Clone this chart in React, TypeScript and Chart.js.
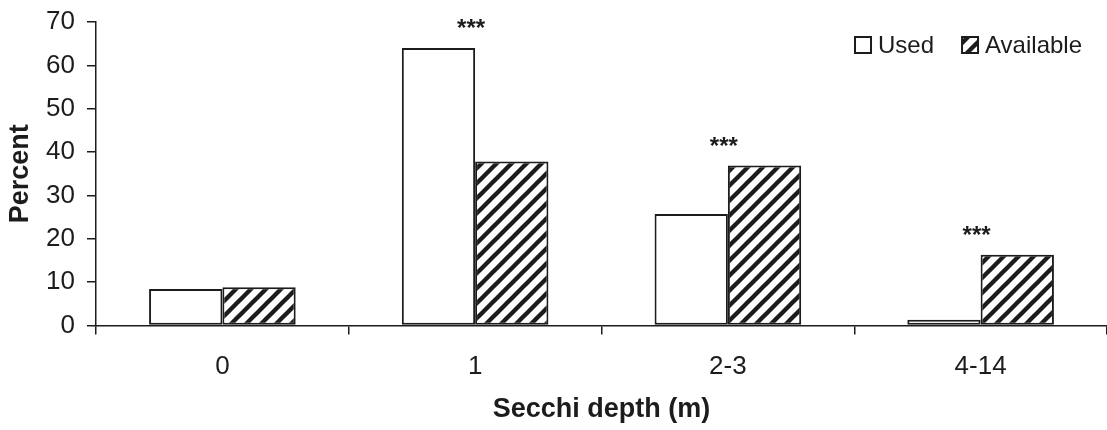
import React, { useEffect, useRef } from "react";
import { Chart, registerables } from "chart.js";

Chart.register(...registerables);

// ---- data ----
const categories = ["0", "1", "2-3", "4-14"];
const usedValues = [8.4, 64.0, 25.7, 1.3];
const availableValues = [8.8, 37.8, 36.9, 16.3];
const significance = ["", "***", "***", "***"];
const seriesLabels = ["Used", "Available"];
const yMin = 0;
const yMax = 70;
const yStep = 10;
const xTitle = "Secchi depth (m)";
const yTitle = "Percent";

const FONT = "'Liberation Sans', Arial, Helvetica, sans-serif";
const INK = "#1c1c1c";

function makeHatch(): CanvasPattern | string {
  const P = 15;
  const c = document.createElement("canvas");
  c.width = P;
  c.height = P;
  const g = c.getContext("2d");
  if (!g) return "#888";
  g.fillStyle = "#ffffff";
  g.fillRect(0, 0, P, P);
  g.strokeStyle = INK;
  g.lineWidth = 4.4;
  g.lineCap = "square";
  for (const k of [-1, 0, 1]) {
    g.beginPath();
    g.moveTo(k * P, P);
    g.lineTo(k * P + P, 0);
    g.stroke();
  }
  return g.createPattern(c, "repeat") || "#888";
}

const legendPlugin = {
  id: "insideLegend",
  afterDraw(chart: any) {
    const ctx: CanvasRenderingContext2D = chart.ctx;
    const area = chart.chartArea;
    ctx.save();
    ctx.font = `24px ${FONT}`;
    const box = 16;
    const gapText = 7;
    const gapItem = 28;
    const items = chart.data.datasets.map((ds: any) => ({
      label: ds.label as string,
      fill: ds.backgroundColor,
      w: ctx.measureText(ds.label).width,
    }));
    let total = 0;
    items.forEach((it: any, i: number) => {
      total += box + gapText + it.w + (i < items.length - 1 ? gapItem : 0);
    });
    let x = area.right - 25 - total;
    const cy = area.top + 23;
    items.forEach((it: any) => {
      ctx.fillStyle = it.fill;
      ctx.fillRect(x, cy - box / 2, box, box);
      ctx.strokeStyle = INK;
      ctx.lineWidth = 2;
      ctx.strokeRect(x, cy - box / 2, box, box);
      ctx.fillStyle = INK;
      ctx.textBaseline = "middle";
      ctx.textAlign = "left";
      ctx.fillText(it.label, x + box + gapText, cy + 1);
      x += box + gapText + it.w + gapItem;
    });
    ctx.restore();
  },
};

const sigPlugin = {
  id: "significance",
  afterDatasetsDraw(chart: any) {
    const ctx: CanvasRenderingContext2D = chart.ctx;
    const xs = chart.scales.x;
    const ys = chart.scales.y;
    ctx.save();
    ctx.font = `bold 24px ${FONT}`;
    ctx.fillStyle = INK;
    ctx.textAlign = "center";
    ctx.textBaseline = "alphabetic";
    significance.forEach((s, i) => {
      if (!s) return;
      const top = Math.max(usedValues[i], availableValues[i]);
      const x = xs.getPixelForValue(i) - 4;
      const yc = ys.getPixelForValue(top) - 26;
      ctx.fillText(s, x, yc + 14);
    });
    ctx.restore();
  },
};

export default function App() {
  const ref = useRef<HTMLCanvasElement | null>(null);

  useEffect(() => {
    if (!ref.current) return;
    const hatch = makeHatch();
    const chart = new Chart(ref.current, {
      type: "bar",
      data: {
        labels: categories,
        datasets: [
          {
            label: seriesLabels[0],
            data: usedValues,
            backgroundColor: "#ffffff",
            borderColor: INK,
            borderWidth: 2,
            borderSkipped: false,
          },
          {
            label: seriesLabels[1],
            data: availableValues,
            backgroundColor: hatch as any,
            borderColor: INK,
            borderWidth: 2,
            borderSkipped: false,
          },
        ],
      },
      options: {
        responsive: false,
        animation: false,
        events: [],
        layout: { padding: { top: 22, left: 0, right: 0, bottom: 0 } },
        datasets: {
          bar: { barPercentage: 1, categoryPercentage: 0.58 },
        },
        plugins: {
          legend: { display: false },
          tooltip: { enabled: false },
          title: { display: false },
        },
        scales: {
          x: {
            offset: true,
            grid: {
              display: true,
              offset: true,
              drawOnChartArea: false,
              drawTicks: true,
              tickLength: 9,
              color: INK,
              lineWidth: 1.5,
            },
            border: { display: true, color: INK, width: 1.5 },
            ticks: {
              color: INK,
              font: { family: FONT, size: 26 },
              padding: 17,
            },
            title: {
              display: true,
              text: xTitle,
              color: INK,
              font: { family: FONT, size: 27, weight: "bold" },
              padding: { top: 0, bottom: 4 },
            },
            afterFit(scale: any) {
              scale.height = 104.5;
              scale.paddingLeft = 0;
              scale.paddingRight = 0;
            },
          },
          y: {
            min: yMin,
            max: yMax,
            grid: {
              display: true,
              drawOnChartArea: false,
              drawTicks: true,
              tickLength: 9,
              color: INK,
              lineWidth: 1.5,
            },
            border: { display: true, color: INK, width: 1.5 },
            ticks: {
              stepSize: yStep,
              color: INK,
              font: { family: FONT, size: 26 },
              padding: 12,
            },
            title: {
              display: true,
              text: yTitle,
              color: INK,
              font: { family: FONT, size: 27, weight: "bold" },
              padding: { top: 4, bottom: 0 },
            },
            afterFit(scale: any) {
              scale.width = 96;
              scale.paddingTop = 0;
              scale.paddingBottom = 0;
            },
          },
        },
      },
      plugins: [sigPlugin, legendPlugin],
    });
    return () => chart.destroy();
  }, []);

  return (
    <div style={{ position: "absolute", left: 0, top: 0, width: 1107, height: 430, background: "#fff" }}>
      <canvas ref={ref} width={1107} height={430} style={{ width: 1107, height: 430, display: "block" }} />
    </div>
  );
}
